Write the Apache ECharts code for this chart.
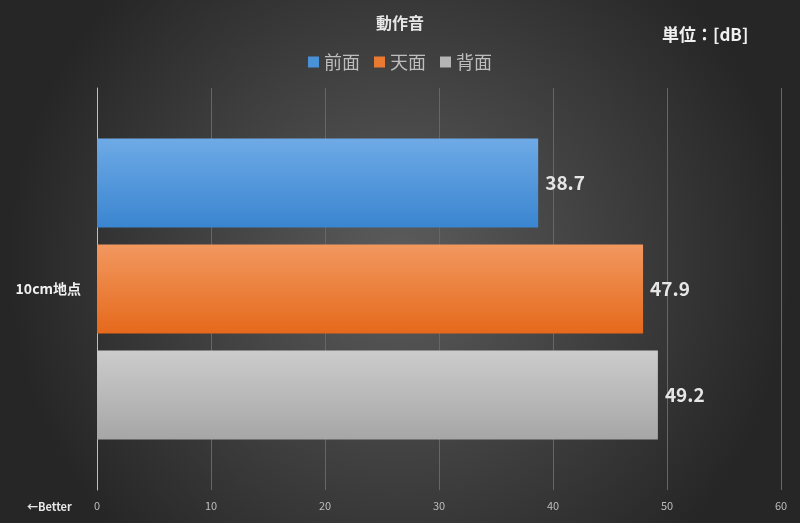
<!DOCTYPE html><html><head><meta charset="utf-8"><script src="https://cdn.jsdelivr.net/npm/echarts@6/dist/echarts.min.js"></script>
<style>html,body{margin:0;padding:0;}#c{width:800px;height:523px;}</style></head><body><div id="c"></div><script>
const categories=['10cm地点'];
const seriesNames=['前面','天面','背面'];
const front=[38.7];
const top_=[47.9];
const back=[49.2];
const xTicks=[0,10,20,30,40,50,60];
const font='"Noto Sans CJK JP","Noto Sans",sans-serif';
const grad=(a,b)=>new echarts.graphic.LinearGradient(0,0,0,1,[{offset:0,color:a},{offset:1,color:b}]);
const colors=[grad('#6eaae6','#3a85d0'),grad('#f29860','#e5691b'),grad('#cccccc','#a6a6a6')];
const legendColors=['#4a92d8','#ea7a32','#b5b5b5'];
const data=[front,top_,back];
const chart=echarts.init(document.getElementById('c'));
chart.setOption({
backgroundColor:new echarts.graphic.RadialGradient(0.5,0.5,0.75,[{offset:0,color:'#5c5c5c'},{offset:1,color:'#262626'}]),
textStyle:{fontFamily:font},
title:[{text:'動作音',left:'center',top:10,textStyle:{color:'#e6e6e6',fontSize:16,fontWeight:'bold',fontFamily:font}},
{text:'単位：[dB]',left:657,top:21,textStyle:{color:'#f0f0f0',fontSize:17,fontWeight:'bold',fontFamily:font}},
{text:'←Better',left:22,top:496,textStyle:{color:'#e6e6e6',fontSize:11,fontWeight:'bold',fontFamily:font}}],
legend:{top:48,left:'center',itemWidth:11,itemHeight:11,itemGap:14,icon:'rect',textStyle:{color:'#bdbdbd',fontSize:18,fontFamily:font},
data:seriesNames.map((n,i)=>({name:n,itemStyle:{color:legendColors[i]}}))},
grid:{left:97,right:19,top:88,bottom:33},
xAxis:{type:'value',min:0,max:60,interval:10,axisLabel:{color:'#bdbdbd',fontSize:11,margin:10,formatter:v=>xTicks.includes(v)?String(v):''},
splitLine:{lineStyle:{color:'#666666'}},axisLine:{show:false},axisTick:{show:false}},
yAxis:{type:'category',data:categories,inverse:true,axisLine:{lineStyle:{color:'#bfbfbf'}},axisTick:{show:false},
axisLabel:{color:'#f0f0f0',fontSize:14,fontWeight:'bold',margin:16}},
series:seriesNames.map((n,i)=>({name:n,type:'bar',data:data[i],barWidth:89,barGap:'19%',
itemStyle:{color:colors[i]},label:{show:true,position:'right',distance:7,color:'#e6e6e6',fontSize:19,fontWeight:'bold',fontFamily:font}}))
});
</script></body></html>
